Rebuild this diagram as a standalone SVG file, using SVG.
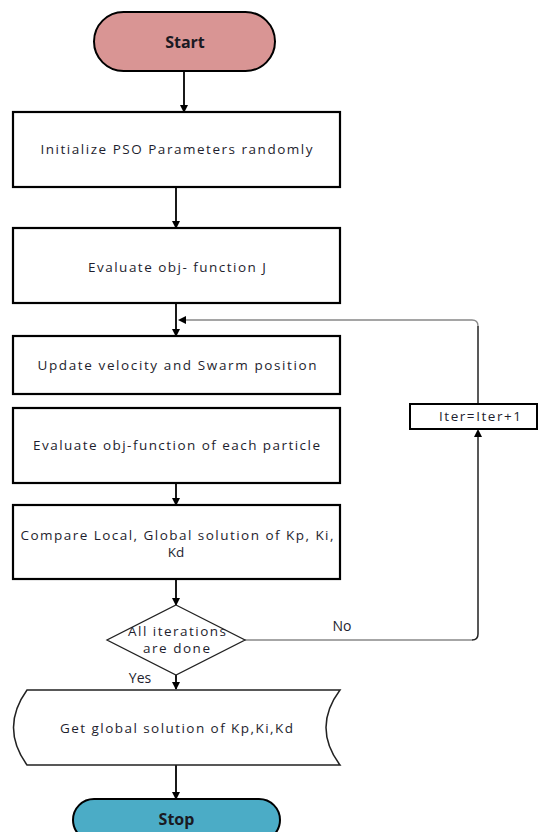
<svg xmlns="http://www.w3.org/2000/svg" width="538" height="832" viewBox="0 0 538 832">
<style>
  .box { fill: #fff; stroke: #000; stroke-width: 2.2; }
  .thin { fill: #fff; stroke: #222; stroke-width: 1.3; }
  .t { font-family: "Open Sans", "Liberation Sans", sans-serif; font-size: 13.5px; fill: #1e1e2e; text-anchor: middle; }
  .lbl { font-family: "Open Sans", "Liberation Sans", sans-serif; font-size: 14px; fill: #1e1e2e; text-anchor: middle; }
  .b { font-family: "Open Sans", "Liberation Sans", sans-serif; font-size: 16px; font-weight: bold; fill: #1a1a22; text-anchor: middle; }
  .arr { fill: none; stroke: #000; stroke-width: 1.8; marker-end: url(#ah); }
  .loop { fill: none; stroke: #888; stroke-width: 1.3; }
  .loopd { fill: none; stroke: #222; stroke-width: 1.5; }
</style>
<defs>
  <marker id="ah" markerWidth="8" markerHeight="8" refX="7" refY="4" orient="auto" markerUnits="userSpaceOnUse">
    <path d="M0,0 L8,4 L0,8 Z" fill="#000"/>
  </marker>
</defs>
<rect width="538" height="832" fill="#fff"/>

<g id="connectors">
  <path class="arr" d="M184,71 V112"/>
  <path class="arr" d="M176,187 V228"/>
  <path class="arr" d="M176,303 V336"/>
  <path class="arr" d="M176,483 V505"/>
  <path class="arr" d="M176,579 V605"/>
  <path class="arr" d="M176,675 V689"/>
  <path class="arr" d="M176,765 V799"/>
  <path class="loop" d="M245,640 H472"/>
  <path class="loopd" d="M472,640 Q478,640 478,634 V437"/>
  <path d="M474,437 L478,429 L482,437 Z" fill="#000"/>
  <path class="loopd" d="M478,404 V326"/>
  <path class="loop" d="M478,326 Q478,320 472,320 H186"/>
  <path d="M186,316 L178,320 L186,324 Z" fill="#000"/>
  <text class="lbl" x="342" y="631">No</text>
  <text class="lbl" x="140" y="683">Yes</text>
</g>

<g id="start">
  <rect x="94" y="12" width="181" height="59" rx="29.5" ry="29.5" fill="#D99594" stroke="#000" stroke-width="2"/>
  <text class="b" x="185" y="47.5">Start</text>
</g>

<g id="init">
  <rect class="box" x="13" y="112" width="327" height="75"/>
  <text class="t" x="176.5" y="154" textLength="272" lengthAdjust="spacing">Initialize PSO Parameters randomly</text>
</g>

<g id="evalJ">
  <rect class="box" x="13" y="228" width="327" height="75"/>
  <text class="t" x="177" y="272" textLength="178" lengthAdjust="spacing">Evaluate obj- function J</text>
</g>

<g id="update">
  <rect class="box" x="13" y="336" width="327" height="58"/>
  <text class="t" x="177" y="370" textLength="279" lengthAdjust="spacing">Update velocity and Swarm position</text>
</g>

<g id="evalEach">
  <rect class="box" x="13" y="408" width="327" height="75"/>
  <text class="t" x="176.5" y="450" textLength="287" lengthAdjust="spacing">Evaluate obj-function of each particle</text>
</g>

<g id="compare">
  <rect class="box" x="13" y="505" width="327" height="74"/>
  <text class="t" x="177" y="540" textLength="313" lengthAdjust="spacing">Compare Local, Global solution of Kp, Ki,</text>
  <text class="t" x="176" y="557">Kd</text>
</g>

<g id="decision">
  <polygon class="thin" points="176,605 245,640 176,675 107,640"/>
  <text class="t" x="177" y="636" textLength="98" lengthAdjust="spacing">All iterations</text>
  <text class="t" x="176.5" y="653" textLength="67" lengthAdjust="spacing">are done</text>
</g>

<g id="iter">
  <rect x="410" y="404" width="127" height="25" fill="#fff" stroke="#000" stroke-width="2"/>
  <text class="t" x="480" y="421" textLength="82" lengthAdjust="spacing">Iter=Iter+1</text>
</g>

<g id="result">
  <path d="M27,690 H340 Q312,727.5 340,765 H27 Q0,727.5 27,690 Z" fill="#fff" stroke="#222" stroke-width="1.5"/>
  <text class="t" x="176.5" y="733" textLength="233" lengthAdjust="spacing">Get global solution of Kp,Ki,Kd</text>
</g>

<g id="stop">
  <rect x="73" y="799" width="207" height="42" rx="21" ry="21" fill="#4BACC6" stroke="#000" stroke-width="2"/>
  <text class="b" x="176.5" y="825">Stop</text>
</g>
</svg>
